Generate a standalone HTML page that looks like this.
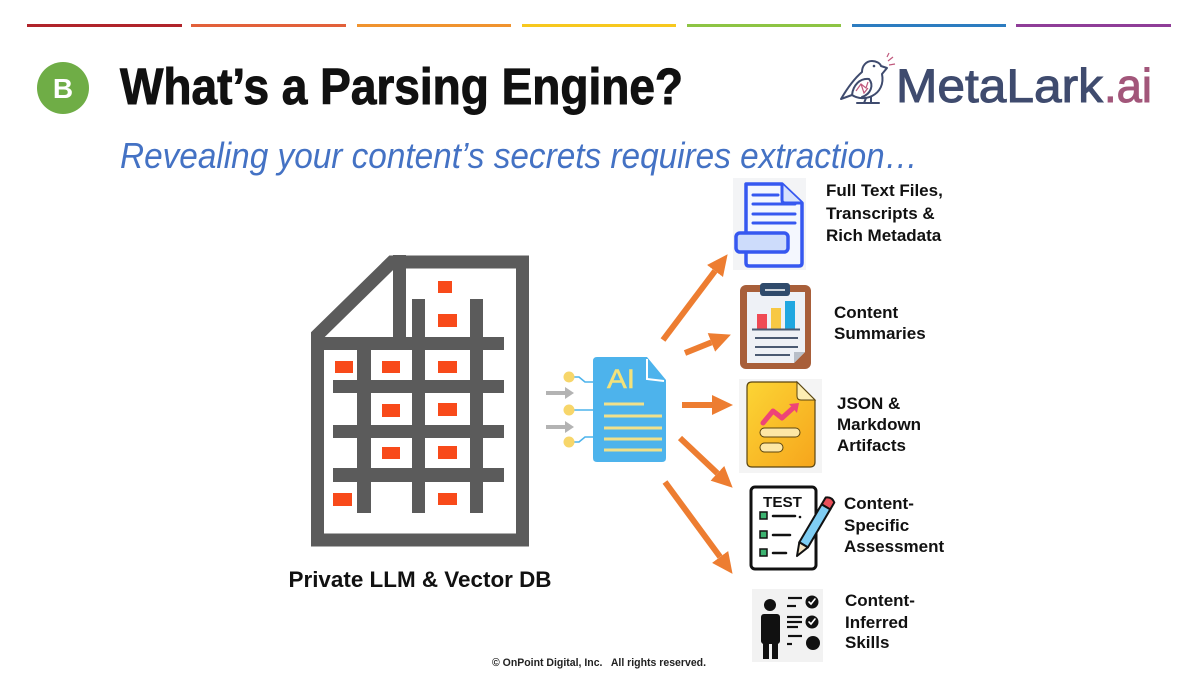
<!DOCTYPE html>
<html><head><meta charset="utf-8"><style>
html,body{margin:0;padding:0;background:#fff;}
svg{display:block;}
</style></head><body>
<svg width="1200" height="673" viewBox="0 0 1200 673" xmlns="http://www.w3.org/2000/svg">
<defs>
<marker id="ah" markerUnits="userSpaceOnUse" markerWidth="22" markerHeight="22" refX="0" refY="10" orient="auto">
<path d="M0,0 L21,10 L0,20 Z" fill="#ed7d31"/>
</marker>
<linearGradient id="yg" x1="0" y1="0" x2="1" y2="1">
<stop offset="0" stop-color="#fcd535"/><stop offset="1" stop-color="#f6a51c"/>
</linearGradient>
</defs>
<rect width="1200" height="673" fill="#fff"/>
<!-- top bars -->
<rect x="27" y="24" width="155" height="3" fill="#b0232a"/>
<rect x="191" y="24" width="155" height="3" fill="#e2603a"/>
<rect x="357" y="24" width="154" height="3" fill="#f0932f"/>
<rect x="522" y="24" width="154" height="3" fill="#f7c81e"/>
<rect x="687" y="24" width="154" height="3" fill="#8dc444"/>
<rect x="852" y="24" width="154" height="3" fill="#2c7cc0"/>
<rect x="1016" y="24" width="155" height="3" fill="#8f3d98"/>

<!-- B badge -->
<circle cx="63" cy="88" r="26" fill="#6fad46"/>
<text x="63" y="98" text-anchor="middle" font-family="Liberation Sans, sans-serif" font-weight="bold" font-size="28" fill="#fff">B</text>
<!-- title -->
<text x="120" y="104" font-family="Liberation Sans, sans-serif" font-weight="bold" font-size="51" fill="#111" stroke="#111" stroke-width="1" textLength="563" lengthAdjust="spacingAndGlyphs">What’s a Parsing Engine?</text>
<!-- subtitle -->
<text x="120" y="168" font-family="Liberation Sans, sans-serif" font-style="italic" font-size="36" fill="#4472c4" textLength="798" lengthAdjust="spacingAndGlyphs">Revealing your content’s secrets requires extraction…</text>

<!-- logo bird -->
<g fill="none" stroke="#3f4b6e" stroke-width="2" stroke-linejoin="round" stroke-linecap="round">
<path d="M872,61 C866,61 862,66 862,72 C855,78 848,87 841,99 L852,95 C858,99 866,99 872,96 C880,92 884,84 882,74 L887,68 L881,66 C880,63 876,61 872,61 Z" fill="#fff"/>
<path d="M852,95 C853,85 860,78 869,79 C874,85 871,94 862,97"/>
<line x1="866" y1="98" x2="864" y2="103"/><line x1="871" y1="97" x2="871" y2="103"/>
<line x1="857" y1="103" x2="879" y2="103"/>
</g>
<g stroke="#c0587c" stroke-width="1.2" fill="none">
<polyline points="856,91 861,84 866,88 868,82"/><polyline points="861,84 864,93 868,88"/>
<line x1="888" y1="61" x2="893" y2="57"/><line x1="889" y1="65" x2="895" y2="64"/><line x1="887" y1="57" x2="889" y2="53"/>
</g>
<circle cx="874" cy="66" r="1.3" fill="#3f4b6e"/>
<text x="896" y="102" font-family="Liberation Sans, sans-serif" font-size="47" fill="#3f4b6e" stroke="#3f4b6e" stroke-width="1" textLength="207" lengthAdjust="spacingAndGlyphs">MetaLark</text>
<text x="1104" y="102" font-family="Liberation Sans, sans-serif" font-size="47" fill="#a2567a" stroke="#a2567a" stroke-width="1" textLength="48" lengthAdjust="spacingAndGlyphs">.ai</text>

<!-- big document -->
<g fill="#5b5b5b">
<path d="M317.5,540 L317.5,335 L392,262 L522.5,262 L522.5,540 Z" fill="none" stroke="#5b5b5b" stroke-width="13" stroke-linejoin="miter"/>
<rect x="393" y="255" width="13" height="95"/>
<rect x="311" y="337" width="193" height="13"/>
<rect x="333" y="380" width="171" height="13"/>
<rect x="333" y="425" width="171" height="13"/>
<rect x="333" y="468" width="171" height="14"/>
<rect x="357" y="337" width="14" height="176"/>
<rect x="412" y="299" width="13" height="214"/>
<rect x="470" y="299" width="13" height="214"/>
</g>
<g fill="#f84a1a">
<rect x="438" y="281" width="14" height="12"/>
<rect x="438" y="314" width="19" height="13"/>
<rect x="335" y="361" width="18" height="12"/>
<rect x="382" y="361" width="18" height="12"/>
<rect x="438" y="361" width="19" height="12"/>
<rect x="382" y="404" width="18" height="13"/>
<rect x="438" y="403" width="19" height="13"/>
<rect x="382" y="447" width="18" height="12"/>
<rect x="438" y="446" width="19" height="13"/>
<rect x="333" y="493" width="19" height="13"/>
<rect x="438" y="493" width="19" height="12"/>
</g>
<text x="420" y="587" text-anchor="middle" font-family="Liberation Sans, sans-serif" font-weight="bold" font-size="22" fill="#111" textLength="263" lengthAdjust="spacingAndGlyphs">Private LLM &amp; Vector DB</text>

<!-- AI inputs -->
<g stroke="#4db3ec" stroke-width="1.6" fill="none">
<path d="M569,377 L579,377 L585,382 L594,382"/>
<path d="M569,410 L594,410"/>
<path d="M569,442 L579,442 L585,437 L594,437"/>
</g>
<g fill="#f7d66a">
<circle cx="569" cy="377" r="5.5"/><circle cx="569" cy="410" r="5.5"/><circle cx="569" cy="442" r="5.5"/>
</g>
<g fill="#b3b3b3">
<rect x="546" y="391" width="20" height="4"/><path d="M565,387 L574,393 L565,399 Z"/>
<rect x="546" y="425" width="20" height="4"/><path d="M565,421 L574,427 L565,433 Z"/>
</g>
<!-- AI doc -->
<path d="M597,357 L647,357 L666,380 L666,458 Q666,462 662,462 L597,462 Q593,462 593,458 L593,361 Q593,357 597,357 Z" fill="#4db3ec"/>
<path d="M647,359 L647,379 L664,381" fill="none" stroke="#fff" stroke-width="2"/>
<text x="607" y="388" font-family="Liberation Sans, sans-serif" font-size="27" fill="#f3e27a" stroke="#f3e27a" stroke-width="0.5" textLength="28" lengthAdjust="spacingAndGlyphs">AI</text>
<g stroke="#f0e08a" stroke-width="3">
<line x1="604" y1="404" x2="644" y2="404"/>
<line x1="604" y1="416" x2="662" y2="416"/>
<line x1="604" y1="428" x2="662" y2="428"/>
<line x1="604" y1="439" x2="662" y2="439"/>
<line x1="604" y1="450" x2="662" y2="450"/>
</g>

<!-- orange arrows -->
<g stroke="#ed7d31" stroke-width="6" marker-end="url(#ah)">
<line x1="663" y1="340" x2="715" y2="271"/>
<line x1="685" y1="353" x2="711.4" y2="342.4"/>
<line x1="682" y1="405" x2="712" y2="405"/>
<line x1="680" y1="438" x2="717.4" y2="473.3"/>
<line x1="665" y1="482" x2="720.1" y2="556.9"/>
</g>

<!-- icon 1 blue doc -->
<rect x="733" y="178" width="73" height="92" fill="#f3f4f6"/>
<path d="M746,184 L782,184 L802,203 L802,263 Q802,266 799,266 L749,266 Q746,266 746,263 Z" fill="#f4f7fe" stroke="#3658f0" stroke-width="3.5" stroke-linejoin="round"/>
<path d="M782,184 L782,200 Q782,203 785,203 L802,203" fill="#d7e2fc" stroke="#3658f0" stroke-width="3" stroke-linejoin="round"/>
<g stroke="#3658f0" stroke-width="3" stroke-linecap="round">
<line x1="753" y1="195" x2="778" y2="195"/>
<line x1="753" y1="204" x2="795" y2="204"/>
<line x1="753" y1="214" x2="795" y2="214"/>
<line x1="753" y1="223" x2="795" y2="223"/>
</g>
<rect x="736" y="233" width="52" height="19" rx="4" fill="#cddcfb" stroke="#3658f0" stroke-width="3.5"/>

<!-- icon 2 clipboard -->
<rect x="740" y="285" width="71" height="84" rx="6" fill="#a85f3a"/>
<path d="M747,292 L805,292 L805,352 L794,363 L747,363 Z" fill="#eef1f6"/>
<path d="M805,352 L794,352 L794,363 Z" fill="#b9bfc8"/>
<rect x="760" y="283" width="30" height="13" rx="3" fill="#2f4a6b"/>
<line x1="765" y1="290" x2="785" y2="290" stroke="#fff" stroke-width="1.5"/>
<rect x="757" y="314" width="10" height="15" fill="#ef4a54"/>
<rect x="771" y="308" width="10" height="21" fill="#f7c843"/>
<rect x="785" y="301" width="10" height="28" fill="#20a7e0"/>
<g stroke="#4a5a72" stroke-width="2">
<line x1="752" y1="329.5" x2="800" y2="329.5"/>
<line x1="755" y1="338" x2="798" y2="338"/>
<line x1="755" y1="347" x2="798" y2="347"/>
<line x1="755" y1="355" x2="790" y2="355"/>
</g>

<!-- icon 3 yellow doc -->
<rect x="739" y="379" width="83" height="94" fill="#f4f4f4"/>
<path d="M752,382 L797,382 L815,400 L815,462 Q815,467 810,467 L752,467 Q747,467 747,462 L747,387 Q747,382 752,382 Z" fill="url(#yg)" stroke="#5a4510" stroke-width="1.2"/>
<path d="M797,382 L797,396 Q797,400 801,400 L815,400 Z" fill="#fdeeb3" stroke="#5a4510" stroke-width="1"/>
<polyline points="763,423 773,411 782,418 792,409" fill="none" stroke="#ee4477" stroke-width="5" stroke-linecap="round" stroke-linejoin="round"/>
<path d="M789,404 L799,403 L797,413 Z" fill="#ee4477"/>
<rect x="760" y="428" width="40" height="9" rx="4.5" fill="#fde7a6" stroke="#5a4510" stroke-width="1"/>
<rect x="760" y="443" width="23" height="9" rx="4.5" fill="#fde7a6" stroke="#5a4510" stroke-width="1"/>

<!-- icon 4 TEST -->
<rect x="751" y="487" width="65" height="82" rx="4" fill="#fff" stroke="#111" stroke-width="3"/>
<text x="763" y="507" font-family="Liberation Sans, sans-serif" font-weight="bold" font-size="15" fill="#111" textLength="39" lengthAdjust="spacingAndGlyphs">TEST</text>
<g fill="#3cb371" stroke="#111" stroke-width="1.5">
<rect x="760" y="512" width="7" height="7"/>
<rect x="760" y="531" width="7" height="7"/>
<rect x="760" y="549" width="7" height="7"/>
</g>
<g stroke="#111" stroke-width="2.5" stroke-linecap="round">
<line x1="773" y1="516" x2="795" y2="516"/>
<line x1="773" y1="535" x2="790" y2="535"/>
<line x1="773" y1="553" x2="786" y2="553"/>
</g>
<circle cx="800" cy="517" r="1.3" fill="#111"/>
<g transform="translate(830,500) rotate(120.5)" stroke="#111" stroke-width="2" stroke-linejoin="round">
<path d="M0,-5 L8,-5 L8,5 L0,5 Q-4,0 0,-5 Z" fill="#e9505a"/>
<rect x="8" y="-5" width="44" height="10" fill="#7fcdf3"/>
<path d="M52,-5 L65,0 L52,5 Z" fill="#f4e3c3"/>
</g>

<!-- icon 5 skills -->
<rect x="752" y="589" width="71" height="73" fill="#f2f2f2"/>
<g fill="#111">
<circle cx="770" cy="605" r="6"/>
<rect x="761" y="614" width="19" height="30" rx="3"/>
<rect x="763" y="640" width="6" height="19"/>
<rect x="772" y="640" width="6" height="19"/>
<circle cx="812" cy="602" r="6.5"/>
<circle cx="812" cy="622" r="6.5"/>
<circle cx="813" cy="643" r="7"/>
</g>
<g stroke="#111" stroke-width="2.2">
<line x1="788" y1="598" x2="802" y2="598"/><line x1="787" y1="606" x2="796" y2="606"/>
<line x1="787" y1="617" x2="802" y2="617"/><line x1="787" y1="622" x2="802" y2="622"/><line x1="787" y1="627" x2="798" y2="627"/>
<line x1="788" y1="636" x2="802" y2="636"/><line x1="787" y1="644" x2="792" y2="644"/>
</g>
<g stroke="#fff" stroke-width="1.6" fill="none" stroke-linecap="round">
<polyline points="809,602 811,604 815,599"/>
<polyline points="809,622 811,624 815,619"/>
</g>

<!-- right labels -->
<g font-family="Liberation Sans, sans-serif" font-weight="bold" font-size="17" fill="#111">
<text x="826" y="196">Full Text Files,</text>
<text x="826" y="219">Transcripts &amp;</text>
<text x="826" y="241">Rich Metadata</text>
<text x="834" y="318">Content</text>
<text x="834" y="339">Summaries</text>
<text x="837" y="409">JSON &amp;</text>
<text x="837" y="430">Markdown</text>
<text x="837" y="451">Artifacts</text>
<text x="844" y="509">Content-</text>
<text x="844" y="531">Specific</text>
<text x="844" y="552">Assessment</text>
<text x="845" y="606">Content-</text>
<text x="845" y="628">Inferred</text>
<text x="845" y="648">Skills</text>
</g>

<!-- footer -->
<text x="492" y="666" font-family="Liberation Sans, sans-serif" font-weight="bold" font-size="11" fill="#222" textLength="214" lengthAdjust="spacingAndGlyphs" xml:space="preserve">© OnPoint Digital, Inc.   All rights reserved.</text>
</svg>
</body></html>
